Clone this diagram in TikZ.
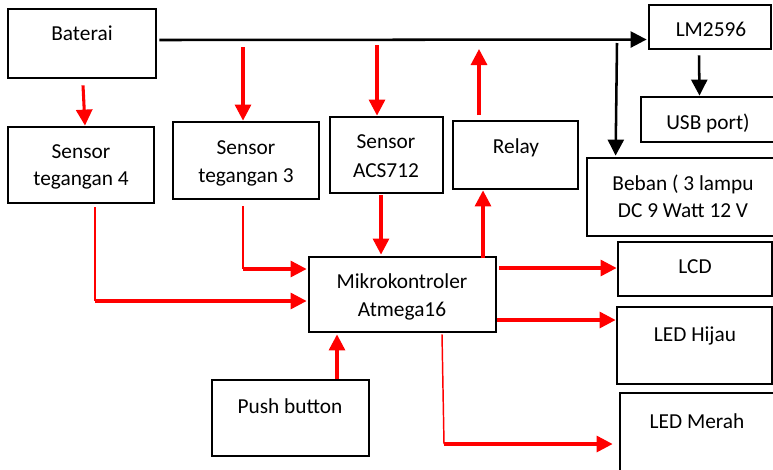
\documentclass[tikz,border=0pt]{standalone}
\usepackage{fontspec}
\setmainfont{Carlito}
\usetikzlibrary{arrows.meta,fit,calc}
\definecolor{ared}{RGB}{255,0,0}
\tikzset{
  box/.style={draw=black, line width=2.1pt, inner sep=0pt, fill=none},
  txt/.style={anchor=base, inner sep=0pt, font=\fontsize{16}{19}\selectfont},
  blkarrow/.style={draw=black, line width=1.9pt, -{Triangle[length=12pt,width=12pt]}},
  redarrow/.style={draw=ared, line width=2.3pt, -{Triangle[length=12pt,width=12pt]}},
  redthin/.style={draw=ared, line width=1.1pt},
}
\begin{document}
\begin{tikzpicture}[x=0.75pt,y=-0.75pt]
\useasboundingbox (0,0) rectangle (773,469);
% boxes
\node[box, fit={(8,9) (156,78)}] (bat) {};
\node[box, fit={(8,127) (154,203)}] (s4) {};
\node[box, fit={(173,122) (319,199)}] (s3) {};
\node[box, fit={(330,117) (443,193)}] (acs) {};
\node[box, fit={(453,121) (578,189)}] (relay) {};
\node[box, fit={(649,5) (771,49)}] (lm) {};
\node[box, fit={(641,97) (778,142)}] (usb) {};
\node[box, fit={(587,158) (778,236)}] (beban) {};
\node[box, fit={(618,242) (772,296)}] (lcd) {};
\node[box, fit={(617,307) (772,384)}] (hijau) {};
\node[box, fit={(620,393) (778,475)}] (merah) {};
\node[box, fit={(309,257) (496,332)}] (mikro) {};
\node[box, fit={(212,380) (369,456)}] (push) {};
% texts
\node[txt] at (82,40) {Baterai};
\node[txt] at (81,158) {Sensor};
\node[txt] at (81,185) {tegangan 4};
\node[txt] at (246,154) {Sensor};
\node[txt] at (246,182) {tegangan 3};
\node[txt] at (386,148) {Sensor};
\node[txt] at (386,177) {ACS712};
\node[txt] at (516,153) {Relay};
\node[txt] at (711,36) {LM2596};
\node[txt] at (708,129) {USB port)};
\node[txt] at (683,190) {Beban ( 3 lampu};
\node[txt] at (683,217) {DC 9 Watt 12 V};
\node[txt] at (695,273) {LCD};
\node[txt] at (695,341) {LED Hijau};
\node[txt] at (697,428) {LED Merah};
\node[txt] at (402,288) {Mikrokontroler};
\node[txt] at (402,316) {Atmega16};
\node[txt] at (290,413) {Push button};
% free ends
\coordinate (j1) at (617,43);
\coordinate (t3) at (243,47);
\coordinate (tacs) at (377,45);
\coordinate (rup1) at (479,115);
\coordinate (rup2) at (479,49);
% black connectors
\draw[blkarrow] ($(bat.east)+(2,-3.5)$) -- ($(lm.west)+(-1,12.5)$);
\draw[blkarrow] (j1) -- ($(beban.north west)+(30,-1)$);
\draw[blkarrow] ($(lm.south)+(-11,5)$) -- ($(usb.north)+(-10,0)$);
% red connectors
\draw[redarrow] ($(bat.south)+(1,6)$) -- ($(s4.north)+(4,0)$);
\draw[redarrow] (t3) -- (t3 |- s3.north);
\draw[redarrow] (tacs) -- (tacs |- acs.north);
\draw[redarrow] (rup1) -- (rup2);
\draw[redarrow] ($(relay.south)+(-32.5,68)$) -- ($(relay.south)+(-32.5,0)$);
\draw[redarrow] ($(acs.south)+(-5.5,1)$) -- ($(mikro.north)+(-21.5,-1)$);
\draw[redthin] (243,206) -- (243,269);
\draw[redarrow] (243,269) -- ($(mikro.west)+(-1,-25.5)$);
\draw[redthin] (95,207) -- (95,301);
\draw[redarrow] (95,301) -- ($(mikro.west)+(-1,6.5)$);
\draw[redarrow] ($(push.north)+(46.5,0)$) -- ($(mikro.south)+(-65.5,1)$);
\draw[redarrow] ($(mikro.east)+(2,-26.5)$) -- ($(lcd.west)+(0,-1)$);
\draw[redarrow] ($(mikro.east)+(0,25.5)$) -- ($(hijau.west)+(0,-25.5)$);
\draw[redthin] ($(mikro.south)+(39.5,1)$) -- (444,444);
\draw[redarrow] (444,444) -- ($(merah.west)+(-6,10)$);
\end{tikzpicture}
\end{document}
